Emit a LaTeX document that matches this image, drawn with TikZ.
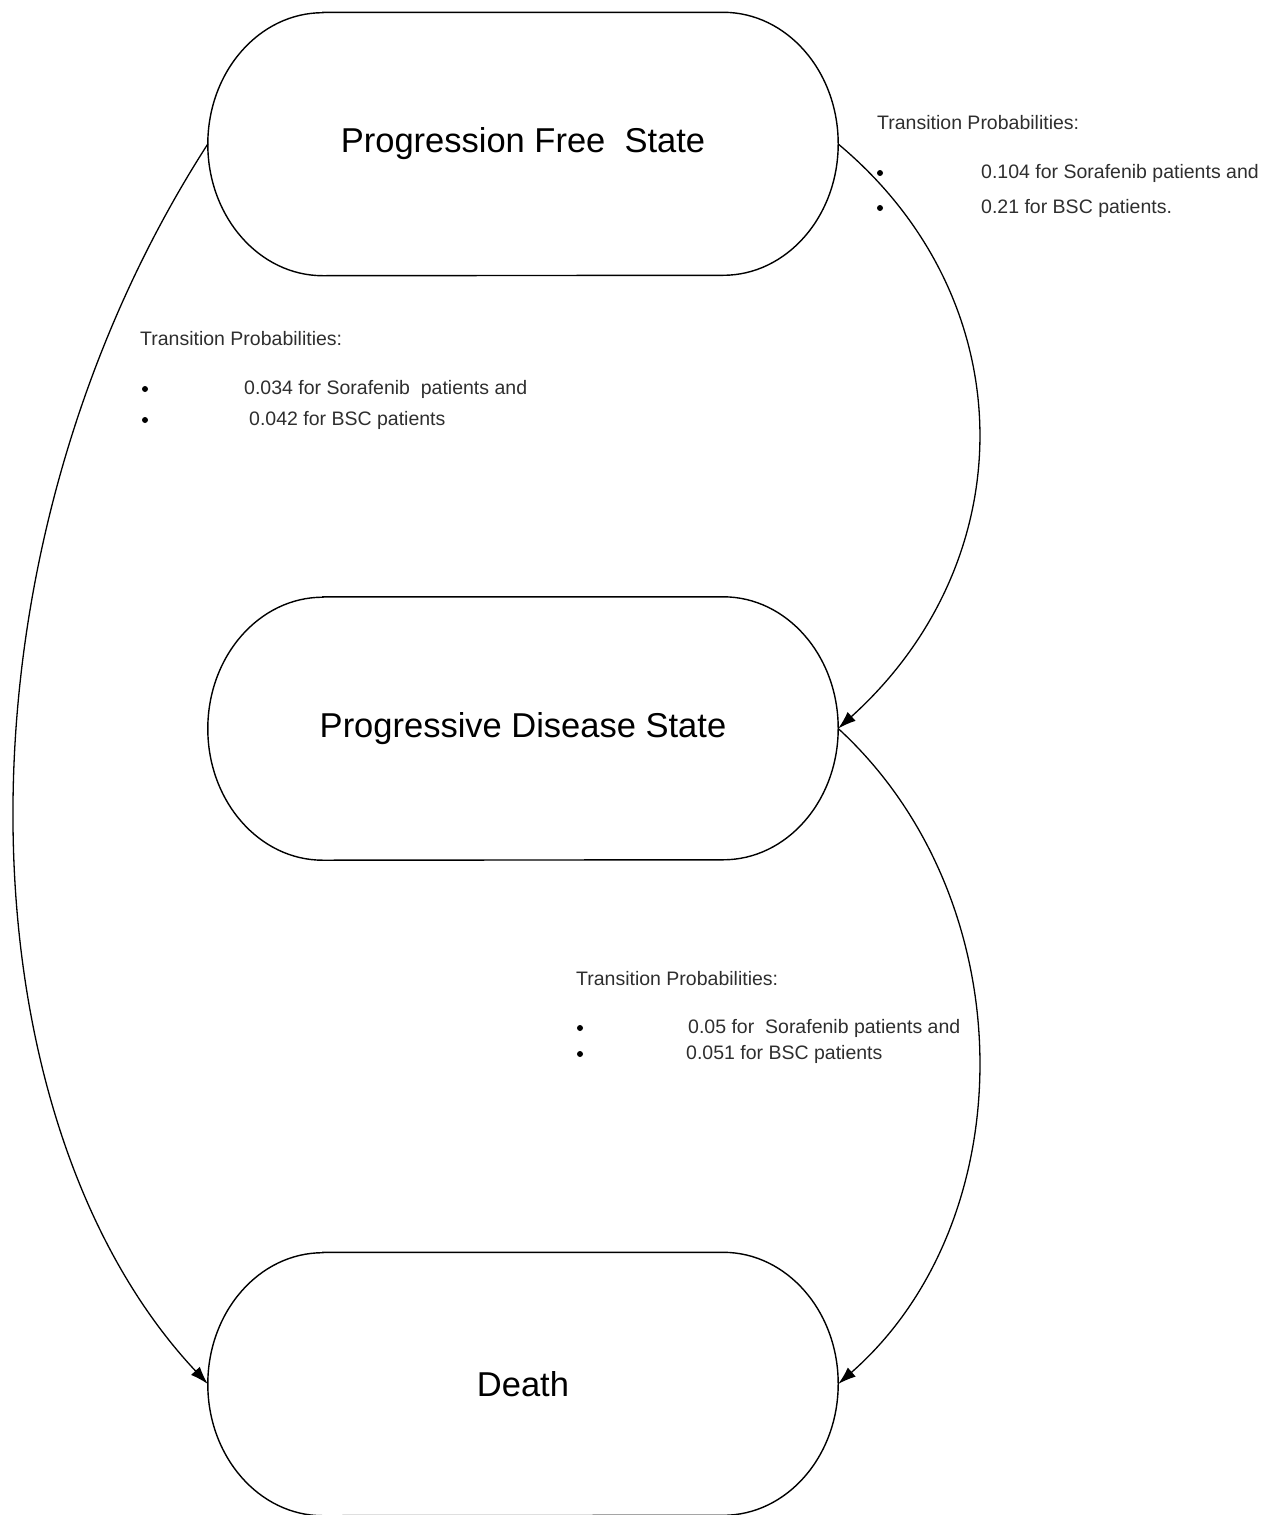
\documentclass[tikz,border=0pt]{standalone}
\usepackage{fontspec}
\setmainfont{Liberation Sans}
\usetikzlibrary{arrows.meta}
\definecolor{labelgray}{rgb}{0.18,0.18,0.18}
\newcommand\stadiumoutline[1]{%
  \draw[boxline] ([xshift=115pt]#1.north west) -- ([xshift=-115pt]#1.north east)
    arc[start angle=90,end angle=-90,x radius=115pt,y radius=131.5pt]
    -- ([xshift=115pt]#1.south west)
    arc[start angle=270,end angle=90,x radius=115pt,y radius=131.5pt] -- cycle;}
\begin{document}
\begin{tikzpicture}[x=1pt,y=1pt,
  statebox/.style={minimum width=630pt, minimum height=263pt, inner sep=0pt,
    font=\fontsize{34.5}{40}\selectfont, text=black},
  boxline/.style={line width=1.4pt, black},
  lbl/.style={anchor=west, inner sep=0pt, font=\fontsize{19.5}{23}\selectfont, text=labelgray},
  bul/.style={circle, fill=black, inner sep=0pt, minimum size=6pt},
  trans/.style={line width=1.3pt, black, -{Latex[length=18pt,width=12pt]}}]
\useasboundingbox (0,0) rectangle (1282,-1515);
% states
\node[statebox] (pfs) at (523,-144) {Progression Free\ \ State};
\node[statebox] (pds) at (523,-728.5) {Progressive Disease State};
\node[statebox] (death) at (523,-1384) {Death};
\stadiumoutline{pfs}
\stadiumoutline{pds}
\stadiumoutline{death}
% transitions
\draw[trans] (pfs.west) .. controls (-60,-560) and (-40,-1120) .. (death.west);
\draw[trans] (pfs.east) .. controls (1025,-300) and (1025,-560) .. (pds.east);
\draw[trans] (pds.east) .. controls (1025,-900) and (1025,-1220) .. (death.east);
% labels: PFS -> PDS
\node[lbl] (t1) at (877,-123) {Transition Probabilities:};
\node[bul] (b1a) at (880,-173) {};
\node[bul] (b1b) at (880,-208) {};
\node[lbl] (l1a) at (981,-173) {0.104 for Sorafenib patients and};
\node[lbl] (l1b) at (981,-208) {0.21 for BSC patients.};
% labels: PFS -> Death
\node[lbl] (t2) at (140,-339) {Transition Probabilities:};
\node[bul] (b2a) at (145,-389) {};
\node[bul] (b2b) at (145,-420) {};
\node[lbl] (l2a) at (244,-389) {0.034 for Sorafenib\ \ patients and};
\node[lbl] (l2b) at (249,-420) {0.042 for BSC patients};
% labels: PDS -> Death
\node[lbl] (t3) at (576,-979) {Transition Probabilities:};
\node[bul] (b3a) at (580,-1028) {};
\node[bul] (b3b) at (580,-1054) {};
\node[lbl] (l3a) at (688,-1028) {0.05 for\ \ Sorafenib patients and};
\node[lbl] (l3b) at (686,-1054) {0.051 for BSC patients};
\end{tikzpicture}
\end{document}
